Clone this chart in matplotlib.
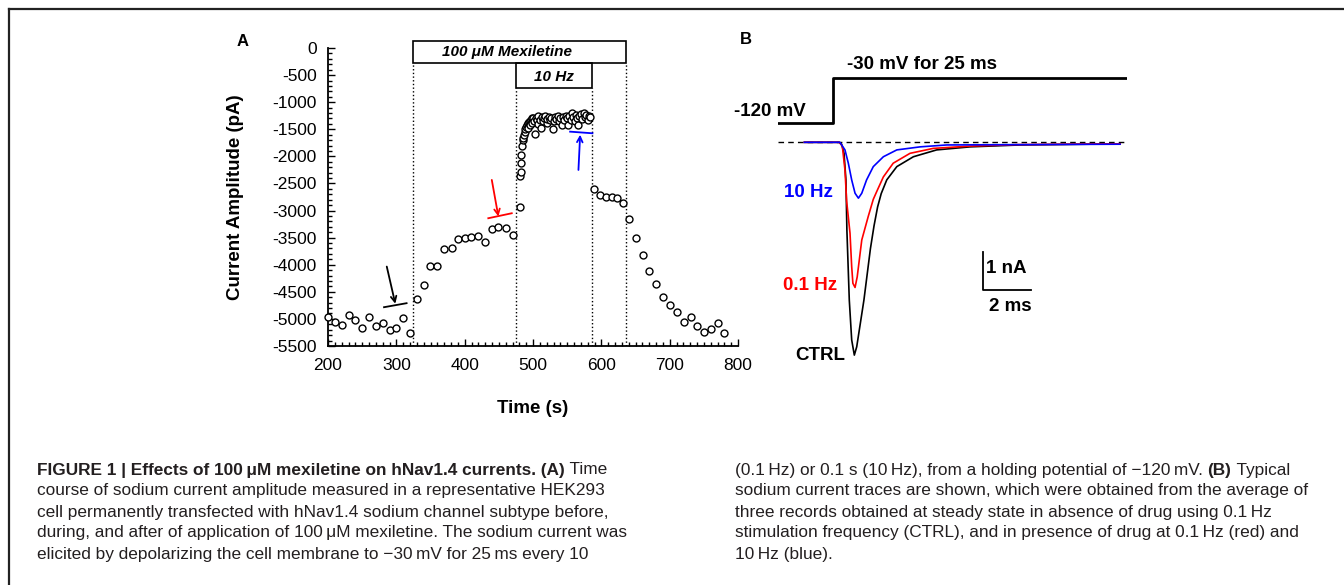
import numpy as np
import matplotlib
matplotlib.use("Agg")
import matplotlib.pyplot as plt
from matplotlib.patches import Rectangle
from matplotlib.lines import Line2D
from matplotlib.ticker import MultipleLocator

plt.rcParams['font.family'] = ['Liberation Sans', 'DejaVu Sans']
plt.rcParams['axes.unicode_minus'] = False

# --- panel A: time course of peak sodium current (s, pA) ---
ctrl_t = [200, 210, 220, 230, 240, 250, 260, 270, 281, 290, 300, 310, 320]
ctrl_i = [-4960, -5050, -5110, -4926, -5018, -5170, -4958, -5130, -5080,
          -5203, -5170, -4987, -5252]

slow_t = [330, 340, 349, 360, 370, 381, 390, 400, 409, 419, 430, 440, 449,
          460, 470]
slow_i = [-4637, -4373, -4017, -4017, -3715, -3685, -3530, -3500, -3481,
          -3469, -3573, -3345, -3297, -3327, -3450]

fast_t = [481, 481, 482, 483, 483, 484, 485, 486, 487, 488, 489, 490, 491,
          492, 493, 494, 495, 496, 497, 498, 499, 500, 502, 503, 504, 506,
          507, 508, 510, 511, 513, 515, 516, 518, 520, 521, 523, 525, 527,
          529, 530, 532, 534, 536, 538, 540, 542, 544, 546, 548, 550, 551,
          553, 555, 557, 559, 561, 563, 565, 566, 568, 570, 572, 574, 576,
          578, 580, 582, 584]
fast_i = [-2928, -2356, -2282, -2128, -1974, -1803, -1700, -1666, -1600,
          -1544, -1500, -1452, -1420, -1390, -1480, -1360, -1340, -1420,
          -1328, -1300, -1380, -1297, -1350, -1587, -1290, -1320, -1400,
          -1260, -1330, -1470, -1280, -1340, -1300, -1250, -1380, -1310,
          -1270, -1330, -1290, -1494, -1340, -1280, -1310, -1260, -1350,
          -1300, -1420, -1280, -1330, -1250, -1300, -1420, -1260, -1320,
          -1194, -1280, -1340, -1230, -1300, -1420, -1260, -1220, -1310,
          -1200, -1280, -1240, -1330, -1250, -1273]

back_t = [589, 598, 607, 615, 623, 631, 641, 651, 661, 670, 680, 690, 700,
          711, 721, 731, 740, 750, 760, 770, 780]
back_i = [-2607, -2712, -2743, -2743, -2774, -2860, -3158, -3500, -3819,
          -4109, -4354, -4588, -4742, -4865, -5061, -4969, -5124, -5234,
          -5191, -5080, -5264]

drug_on, drug_off = 324, 636
hz10_on, hz10_off = 475, 586

# --- panel B: current traces (ms, nA) and voltage protocol (ms, mV) ---
ctrl_tr_t = [1.1, 2.55, 2.65, 2.75, 2.83, 2.87, 2.97, 3.07, 3.18, 3.28,
             3.58, 3.85, 4.0, 4.15, 4.3, 4.53, 4.95, 5.64, 6.61, 8.0, 10.08,
             14.25]
ctrl_tr_i = [0, 0, -0.05, -0.29, -0.99, -2.31, -4.15, -5.2, -5.6, -5.38,
             -4.15, -2.8, -2.2, -1.7, -1.35, -0.99, -0.64, -0.38, -0.20,
             -0.12, -0.07, -0.04]

low_tr_t = [1.1, 2.55, 2.68, 2.79, 2.86, 3.0, 3.07, 3.12, 3.21, 3.30, 3.49,
            3.76, 3.97, 4.11, 4.39, 4.8, 5.5, 6.47, 8.0, 10.0, 14.25]
low_tr_i = [0, 0, -0.1, -0.73, -1.55, -2.39, -3.27, -3.71, -3.82, -3.54,
            -2.57, -1.95, -1.5, -1.3, -0.91, -0.55, -0.29, -0.16, -0.10,
            -0.06, -0.04]

high_tr_t = [1.1, 2.58, 2.79, 2.93, 3.07, 3.21, 3.35, 3.49, 3.69, 3.97,
             4.39, 4.95, 5.92, 7.03, 14.25]
high_tr_i = [0, 0, -0.2, -0.55, -0.99, -1.34, -1.47, -1.34, -0.99, -0.64,
             -0.38, -0.20, -0.12, -0.07, -0.05]

step_t = [0, 2.3, 2.3, 14.54]
step_mv = [-120, -120, -30, -30]

W, H = 1344, 585
fig = plt.figure(figsize=(W / 100, H / 100), dpi=100)


def px_rect(x0, y0, x1, y1):
    return [x0 / W, 1 - y1 / H, (x1 - x0) / W, (y1 - y0) / H]


# ---------------- panel A ----------------
ax = fig.add_axes(px_rect(328, 48, 738, 346))
mk = dict(marker='o', ls='none', ms=5.0, mfc='white', mec='black', mew=1.0,
          clip_on=False, zorder=3)
for tt, ii in [(ctrl_t, ctrl_i), (slow_t, slow_i), (fast_t, fast_i),
               (back_t, back_i)]:
    ax.plot(tt, ii, **mk)

ax.set_xlim(200, 800)
ax.set_ylim(-5500, 0)
ax.xaxis.set_major_locator(MultipleLocator(100))
ax.xaxis.set_minor_locator(MultipleLocator(10))
ax.yaxis.set_major_locator(MultipleLocator(500))
ax.yaxis.set_minor_locator(MultipleLocator(100))
ax.tick_params(which='both', direction='in', width=1, labelsize=12.5)
ax.tick_params(which='major', length=5)
ax.tick_params(which='minor', length=3)
ax.tick_params(axis='x', pad=9)
ax.tick_params(axis='y', pad=8)
for s in ['top', 'right']:
    ax.spines[s].set_visible(False)
for s in ['left', 'bottom']:
    ax.spines[s].set_linewidth(1.3)

ax.set_ylabel('Current Amplitude (pA)', fontsize=13.5, fontweight='bold')
ax.yaxis.set_label_coords(-0.205, 0.5)
ax.set_xlabel('Time (s)', fontsize=13.5, fontweight='bold')
ax.xaxis.set_label_coords(0.5, -0.18)

# drug and 10 Hz periods
ax.add_patch(Rectangle((drug_on, -277), drug_off - drug_on, 406, fill=False,
                       lw=1.2, ec='black', clip_on=False))
ax.add_patch(Rectangle((hz10_on, -738), hz10_off - hz10_on, 461, fill=False,
                       lw=1.2, ec='black', clip_on=False))
ax.text(462, -74, '100 \u03bcM Mexiletine', ha='center', va='center',
        fontsize=11, fontweight='bold', fontstyle='italic')
ax.text((hz10_on + hz10_off) / 2, -530, '10 Hz', ha='center', va='center',
        fontsize=11, fontweight='bold', fontstyle='italic')
dot = dict(color='black', ls=':', lw=1.0)
ax.plot([drug_on, drug_on], [-5500, -277], **dot)
ax.plot([drug_off, drug_off], [-5500, -277], **dot)
ax.plot([hz10_on, hz10_on], [-5500, -738], **dot)
ax.plot([hz10_off, hz10_off], [-5500, -738], **dot)

# hand-drawn style arrows marking the traces shown in B
for col, start, end, bar in [
        ('black', (286, -4034), (298.5, -4720), ((282, 315), (-4784, -4710))),
        ('red', (439.7, -2435), (449.3, -3110), ((434.6, 468.9), (-3142, -3050))),
        ('blue', (566.5, -2251), (569, -1600), ((554.3, 587), (-1544, -1574)))]:
    ax.annotate('', xy=end, xytext=start,
                arrowprops=dict(arrowstyle='->', color=col, lw=1.3,
                                shrinkA=0, shrinkB=0, mutation_scale=10))
    ax.plot(bar[0], bar[1], color=col, lw=1.3, clip_on=False)

fig.text(243 / W, 1 - 42 / H, 'A', fontsize=12, fontweight='bold',
         ha='center', va='center')

# ---------------- panel B ----------------
rect_b = px_rect(778, 40, 1127, 390)
ax_b = fig.add_axes(rect_b)
ax_b.set_xlim(0, 14.54)
ax_b.set_ylim(-6.518, 2.692)
ax_b.axis('off')

ax_b.plot([0, 14.54], [0, 0], color='black', lw=1.0, dashes=(4, 3))
ax_b.plot(ctrl_tr_t, ctrl_tr_i, color='black', lw=1.2)
ax_b.plot(low_tr_t, low_tr_i, color='#ff0000', lw=1.2)
ax_b.plot(high_tr_t, high_tr_i, color='#0000ff', lw=1.2)

lab = dict(fontsize=13.5, fontweight='bold', ha='right', va='center')
ax_b.text(2.29, -1.33, '10 Hz', color='#0000ff', **lab)
ax_b.text(2.46, -3.78, '0.1 Hz', color='#ff0000', **lab)
ax_b.text(2.79, -5.6, 'CTRL', color='black', **lab)

# scale bars: 1 nA, 2 ms
ax_b.plot([8.54, 8.54, 10.54], [-2.88, -3.89, -3.89], color='black', lw=1.3)
ax_b.text(8.68, -3.33, '1 nA', fontsize=13.5, fontweight='bold',
          ha='left', va='center')
ax_b.text(9.67, -4.33, '2 ms', fontsize=13.5, fontweight='bold',
          ha='center', va='center')

ax_v = fig.add_axes(rect_b)
ax_v.set_xlim(0, 14.54)
ax_v.set_ylim(-653.4, 46.6)
ax_v.axis('off')
ax_v.plot(step_t, step_mv, color='black', lw=2.0)
ax_v.text(-1.83, -97, '-120 mV', fontsize=13.5, fontweight='bold',
          ha='left', va='center')
ax_v.text(2.88, -2, '-30 mV for 25 ms', fontsize=13.5, fontweight='bold',
          ha='left', va='center')

fig.text(746 / W, 1 - 40 / H, 'B', fontsize=12, fontweight='bold',
         ha='center', va='center')

# ---------------- frame and legend text ----------------
fig.add_artist(Line2D([9 / W, 9 / W], [0, 1 - 9 / H], color='#222222', lw=1.6))
fig.add_artist(Line2D([9 / W, 1], [1 - 9 / H, 1 - 9 / H], color='#222222',
                      lw=1.6))

renderer = fig.canvas.get_renderer()


def rich_line(x, y, parts, size=12.4):
    # draw consecutive bold/regular pieces on one line, in pixel coordinates
    for txt, weight in parts:
        t = fig.text(x / W, 1 - y / H, txt, fontsize=size, fontweight=weight,
                     ha='left', va='center', color='#231f20')
        x = t.get_window_extent(renderer).x1


left_lines = [
    [('FIGURE 1 | Effects of 100\u2009\u03bcM mexiletine on hNav1.4 currents. (A)', 'bold'),
     (' Time', 'normal')],
    [('course of sodium current amplitude measured in a representative HEK293', 'normal')],
    [('cell permanently transfected with hNav1.4 sodium channel subtype before,', 'normal')],
    [('during, and after of application of 100\u2009\u03bcM mexiletine. The sodium current was', 'normal')],
    [('elicited by depolarizing the cell membrane to \u221230\u2009mV for 25\u2009ms every 10', 'normal')],
]
right_lines = [
    [('(0.1\u2009Hz) or 0.1 s (10\u2009Hz), from a holding potential of \u2212120\u2009mV. ', 'normal'),
     ('(B)', 'bold'), (' Typical', 'normal')],
    [('sodium current traces are shown, which were obtained from the average of', 'normal')],
    [('three records obtained at steady state in absence of drug using 0.1\u2009Hz', 'normal')],
    [('stimulation frequency (CTRL), and in presence of drug at 0.1\u2009Hz (red) and', 'normal')],
    [('10\u2009Hz (blue).', 'normal')],
]
for k, parts in enumerate(left_lines):
    rich_line(37, 470 + 21 * k, parts)
for k, parts in enumerate(right_lines):
    rich_line(735, 470 + 21 * k, parts)

fig.savefig('out.png', dpi=100)
